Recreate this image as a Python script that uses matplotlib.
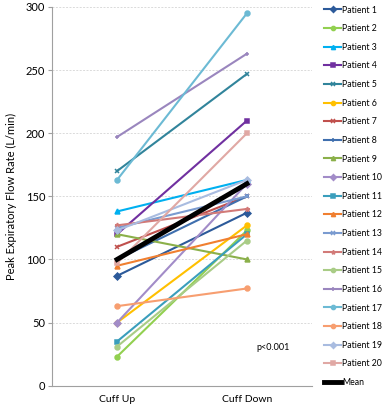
import numpy as np
import matplotlib
matplotlib.use("Agg")
import matplotlib.pyplot as plt

plt.rcParams['font.family'] = ['Lato', 'DejaVu Sans']

# data
categories = ["Cuff Up", "Cuff Down"]
patients = ["Patient %d" % i for i in range(1, 21)]
cuff_up = [87, 23, 138, 120, 170, 50, 110, 100, 120, 50,
           35, 95, 125, 127, 31, 197, 163, 63, 123, 97]
cuff_down = [137, 123, 163, 210, 247, 127, 150, 150, 100, 160,
             120, 120, 150, 140, 115, 263, 295, 77, 163, 200]
mean_vals = [100, 160]

colors = ["#2C5A9A", "#92D050", "#00B0F0", "#7030A0", "#31849B",
          "#FFC000", "#C0504D", "#3F6FAE", "#8BB04A", "#A28CC8",
          "#3A9EBC", "#F07F30", "#7A9BD0", "#D27A78", "#A9CC86",
          "#9A86BE", "#6CBAD4", "#F79E70", "#A9BCE0", "#E0A8A4"]
markers = ["D", "o", "^", "s", "x", "o", "x", "+", "^", "D",
           "s", "^", "x", "*", "o", "+", "o", "o", "D", "s"]

fig = plt.figure(figsize=(3.86, 4.09), dpi=100)
ax = fig.add_axes([0.135, 0.057, 0.673, 0.926])

x = np.arange(len(categories))
for i in range(len(patients)):
    ax.plot(x, [cuff_up[i], cuff_down[i]], color=colors[i], marker=markers[i],
            lw=1.5, ms=3.5, mew=1.1, label=patients[i])
ax.plot(x, mean_vals, color="black", lw=3.5, label="Mean")

ax.text(1.2, 30, "p<0.001", fontsize=6.5, ha="center", va="center")

ax.set_xlim(-0.5, 1.5)
ax.set_ylim(0, 300)
ax.set_xticks(x)
ax.set_xticklabels(categories, fontsize=7.5)
ax.set_yticks(np.arange(0, 301, 50))
ax.tick_params(axis="y", labelsize=8, length=3, color="#A0A0A0", pad=2)
ax.tick_params(axis="x", length=0, pad=7)
ax.set_ylabel("Peak Expiratory Flow Rate (L/min)", fontsize=8, labelpad=6)
ax.yaxis.grid(True, color="#DADADA", ls=(0, (2, 1.5)), lw=0.7)
ax.set_axisbelow(True)
for s in ["top", "right"]:
    ax.spines[s].set_visible(False)
ax.spines["left"].set_color("#A0A0A0")
ax.spines["bottom"].set_color("#A0A0A0")

leg = fig.legend(loc="upper left", bbox_to_anchor=(0.83, 0.995), frameon=False,
                 fontsize=6.3, handlelength=2.0, handletextpad=0.1,
                 labelspacing=1.1, borderaxespad=0, markerscale=0.85)

fig.savefig("out.png", dpi=100)
